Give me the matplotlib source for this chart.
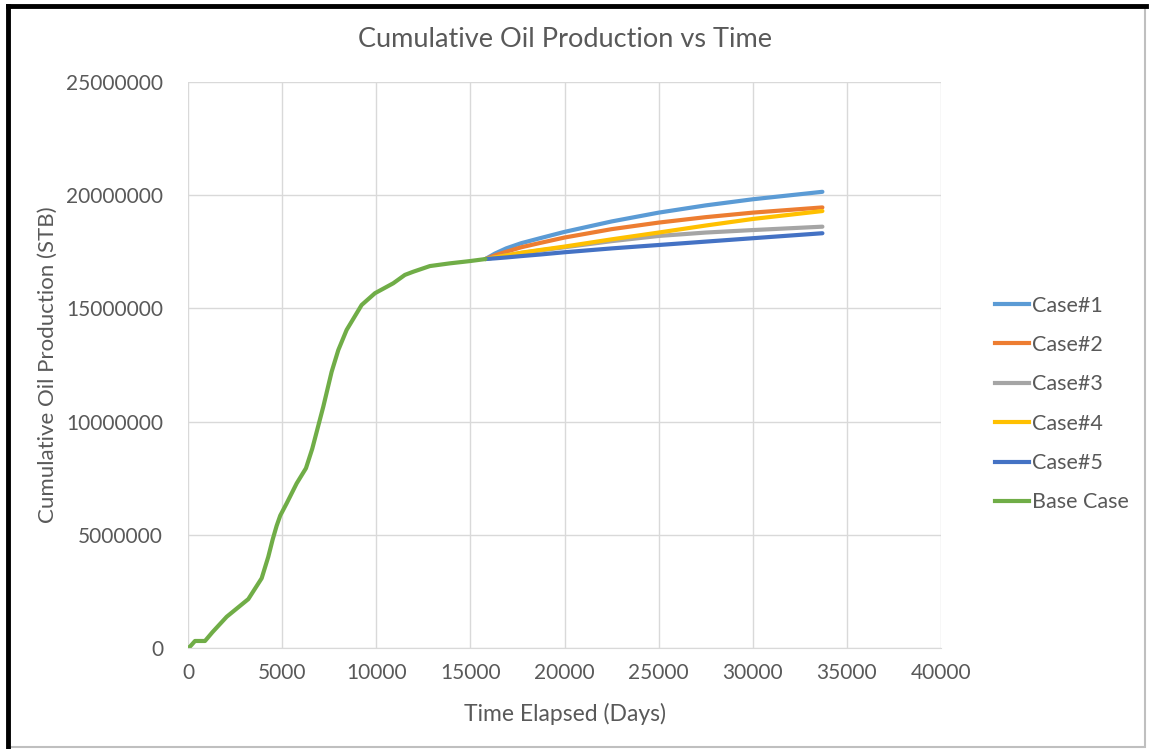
import numpy as np
import matplotlib.pyplot as plt
from matplotlib.patches import Rectangle
from matplotlib.lines import Line2D

plt.rcParams['font.family'] = ['Lato', 'DejaVu Sans']

# base case history (days, STB)
base_t = [0, 106, 372, 903, 1300, 2055, 2600, 3204, 3913, 4265, 4500, 4710,
          4900, 5241, 5772, 6266, 6600, 7187, 7630, 7984, 8427, 9223, 9930,
          10903, 11523, 11966, 12850, 13912, 14974, 15800]
base_q = [0, 60000, 310000, 310000, 700000, 1380000, 1750000, 2160000,
          3080000, 4030000, 4800000, 5400000, 5850000, 6390000, 7270000,
          7940000, 8800000, 10660000, 12200000, 13160000, 14050000, 15150000,
          15670000, 16110000, 16480000, 16620000, 16870000, 16990000,
          17090000, 17180000]

# forecast cases
case_t = [15800, 16300, 16900, 17700, 18700, 20000, 22500, 25000, 27500, 30000, 33700]
case1 = [17180000, 17420000, 17650000, 17880000, 18100000, 18380000, 18840000,
         19230000, 19550000, 19820000, 20150000]
case2 = [17180000, 17340000, 17500000, 17700000, 17890000, 18130000, 18500000,
         18790000, 19030000, 19230000, 19460000]
case3 = [17180000, 17250000, 17340000, 17450000, 17560000, 17700000, 17970000,
         18200000, 18350000, 18460000, 18610000]
case4 = [17180000, 17250000, 17340000, 17460000, 17580000, 17730000, 18050000,
         18350000, 18660000, 18950000, 19300000]
case5 = [17180000, 17210000, 17250000, 17310000, 17380000, 17480000, 17650000,
         17800000, 17950000, 18100000, 18320000]

names = ['Case#1', 'Case#2', 'Case#3', 'Case#4', 'Case#5', 'Base Case']
colors = ['#5B9BD5', '#ED7D31', '#A5A5A5', '#FFC000', '#4472C4', '#70AD47']

fig = plt.figure(figsize=(11.49, 7.49), dpi=100)
ax = fig.add_axes([188 / 1149, 101 / 749, 753 / 1149, 566 / 749])

text_c = '#595959'
cases = [case1, case2, case3, case4, case5]
for vals, c in zip(cases, colors[:5]):
    ax.plot(case_t, vals, color=c, lw=3.0, solid_capstyle='round')
ax.plot(base_t, base_q, color=colors[5], lw=3.0, solid_capstyle='round')

ax.set_xlim(0, 40000)
ax.set_ylim(0, 25000000)
ax.set_xticks(np.arange(0, 40001, 5000))
ax.set_yticks(np.arange(0, 25000001, 5000000))
ax.yaxis.set_major_formatter(plt.FuncFormatter(lambda v, p: '%d' % v))
ax.grid(True, color='#D9D9D9', lw=1)
ax.set_axisbelow(True)
for s in ['top', 'right', 'left']:
    ax.spines[s].set_visible(False)
ax.spines['bottom'].set_color('#D9D9D9')
ax.tick_params(length=0, labelsize=15, colors=text_c)
ax.tick_params(axis='y', pad=18)
ax.tick_params(axis='x', pad=11)

ax.set_title('Cumulative Oil Production vs Time', fontsize=19.5, color=text_c, pad=25)
ax.set_xlabel('Time Elapsed (Days)', fontsize=16.5, color=text_c, labelpad=14)
ax.set_ylabel('Cumulative Oil Production (STB)', fontsize=16, color=text_c, labelpad=6)

handles = [Line2D([], [], color=c, lw=3.0) for c in colors]
fig.legend(handles, names, loc='center left', bbox_to_anchor=(976 / 1149, 1 - 404 / 749),
           frameon=False, fontsize=15.5, labelcolor=text_c, handlelength=1.55,
           handletextpad=0.15, labelspacing=0.9)

# screenshot frame
fig.add_artist(Rectangle((8 / 1149, 2 / 749), 1137 / 1149, 741 / 749,
                         transform=fig.transFigure, fill=False,
                         edgecolor='#BFBFBF', lw=1.5))
fig.add_artist(Line2D([8 / 1149, 1146 / 1149], [1 - 6 / 749, 1 - 6 / 749],
                      transform=fig.transFigure, color='black', lw=3.5))
fig.add_artist(Line2D([8 / 1149, 8 / 1149], [2 / 749, 1 - 6 / 749],
                      transform=fig.transFigure, color='black', lw=3.5))

plt.savefig('out.png', dpi=100)
